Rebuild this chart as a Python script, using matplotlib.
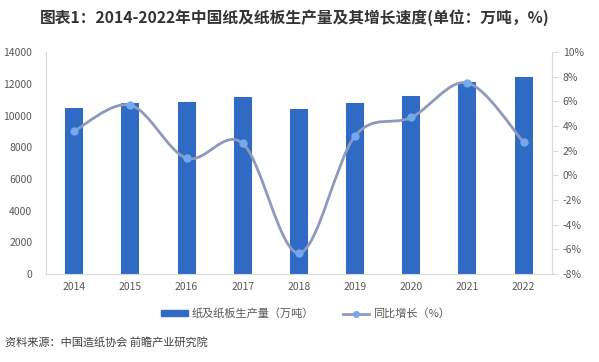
import numpy as np
import matplotlib.pyplot as plt
from matplotlib.path import Path
from matplotlib.patches import PathPatch, Patch
from matplotlib.lines import Line2D
from matplotlib.ticker import FuncFormatter

plt.rcParams['font.family'] = ['Noto Sans CJK SC', 'DejaVu Sans']

years = ['2014', '2015', '2016', '2017', '2018', '2019', '2020', '2021', '2022']
output = [10450, 10760, 10830, 11140, 10400, 10770, 11240, 12090, 12400]   # 万吨
growth = [3.6, 5.7, 1.4, 2.6, -6.3, 3.2, 4.7, 7.5, 2.7]                    # %

BAR_COLOR = '#2f6bc4'
LINE_COLOR = '#8f99bd'
MARK_COLOR = '#74a9ee'
TXT = '#595959'


def smooth_path(xs, ys):
    # Excel风格的平滑曲线: Catmull-Rom 转三次贝塞尔
    pts = np.column_stack([xs, ys]).astype(float)
    verts = [pts[0]]
    codes = [Path.MOVETO]
    n = len(pts)
    for i in range(n - 1):
        p0 = pts[i - 1] if i > 0 else pts[i]
        p1 = pts[i]
        p2 = pts[i + 1]
        p3 = pts[i + 2] if i + 2 < n else pts[i + 1]
        c1 = p1 + (p2 - p0) / 6
        c2 = p2 - (p3 - p1) / 6
        verts += [c1, c2, p2]
        codes += [Path.CURVE4] * 3
    return Path(verts, codes)


fig = plt.figure(figsize=(5.99, 3.62), dpi=100)
ax = fig.add_axes([0.077, 0.243, 0.844, 0.613])
x = np.arange(len(years))

ax.bar(x, output, width=0.32, color=BAR_COLOR, zorder=2)
ax.set_xlim(-0.5, len(years) - 0.5)
ax.set_ylim(0, 14000)
ax.set_yticks(np.arange(0, 14001, 2000))
ax.set_xticks(x)
ax.set_xticklabels(years)
ax.tick_params(axis='both', length=0, labelsize=7.5, colors=TXT, pad=6)
ax.tick_params(axis='y', pad=10)
for s in ['top', 'right']:
    ax.spines[s].set_visible(False)
ax.spines['left'].set_color('#d9d9d9')
ax.spines['bottom'].set_color('#d9d9d9')

ax2 = ax.twinx()
ax2.set_ylim(-8, 10)
ax2.set_yticks(np.arange(-8, 10.1, 2))
ax2.yaxis.set_major_formatter(FuncFormatter(lambda v, p: '%d%%' % v))
ax2.tick_params(axis='y', length=4, width=0.8, labelsize=7.5, pad=4,
                colors='#d9d9d9', labelcolor=TXT)
for s in ['top', 'left', 'bottom']:
    ax2.spines[s].set_visible(False)
ax2.spines['right'].set_color('#d9d9d9')

ax2.add_patch(PathPatch(smooth_path(x, growth), facecolor='none', edgecolor=LINE_COLOR,
                        lw=2, zorder=3))
ax2.plot(x, growth, ls='none', marker='o', ms=5, color=MARK_COLOR, zorder=4)

handles = [Patch(color=BAR_COLOR),
           Line2D([], [], color=LINE_COLOR, lw=2, marker='o', ms=4, mfc=MARK_COLOR, mec=MARK_COLOR)]
fig.legend(handles, ['纸及纸板生产量（万吨）', '同比增长（%）'], loc='center',
           bbox_to_anchor=(0.51, 0.133), ncol=2, frameon=False, fontsize=8,
           labelcolor=TXT, handlelength=2.4, handleheight=0.5, columnspacing=2.6,
           handletextpad=0.3)

fig.text(0.066, 0.952, '图表1：2014-2022年中国纸及纸板生产量及其增长速度(单位：万吨，%)',
         fontsize=11.3, fontweight='bold', color='#333333', va='center')
fig.text(0.008, 0.055, '资料来源：中国造纸协会 前瞻产业研究院', fontsize=8, color='#404040',
         va='center')

fig.savefig('out.png', dpi=100)
